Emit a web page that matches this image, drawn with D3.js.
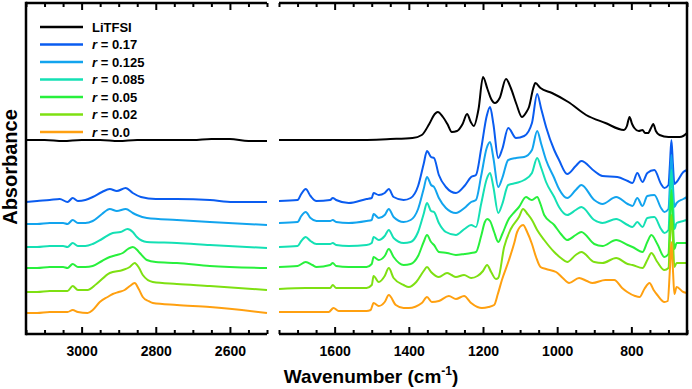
<!DOCTYPE html>
<html>
<head>
<meta charset="utf-8">
<script src="https://cdn.jsdelivr.net/npm/d3@7"></script>
<style>
  body { margin: 0; background: #fff; }
  text { font-family: "Liberation Sans", Arial, sans-serif; font-weight: bold; }
</style>
</head>
<body>
<script>
var w = 692, h = 389;

// spectra: [wavenumber (cm-1), absorbance + stacking offset]
var litfsi = [[3150,1.94],[3100,1.94],[3050,1.93],[3000,1.94],[2950,1.94],[2900,1.93],[2850,1.94],[2800,1.94],[2750,1.94],[2700,1.94],[2650,1.95],[2600,1.95],[2550,1.93],[2500,1.93],
  [1750,1.94],[1650,1.94],[1550,1.94],[1450,1.95],[1390,1.96],[1365,1.99],[1345,2.10],[1330,2.20],[1322,2.22],[1308,2.17],[1296,2.10],[1284,2.02],[1270,2.03],[1255,2.10],[1243,2.20],[1233,2.12],[1225,2.08],[1212,2.25],[1200,2.57],[1188,2.45],[1178,2.35],[1168,2.31],[1155,2.36],[1138,2.55],[1125,2.46],[1110,2.30],[1095,2.17],[1083,2.22],[1076,2.27],[1065,2.45],[1059,2.51],[1045,2.46],[1014,2.41],[970,2.32],[922,2.19],[870,2.11],[820,2.04],[812,2.08],[805,2.17],[798,2.10],[792,2.06],[780,2.03],[770,2.04],[763,2.01],[755,2.01],[747,2.06],[741,2.10],[734,2.03],[724,1.99],[700,1.97],[670,1.97],[660,1.98],[650,2.01]];

var r017 = [[3150,1.32],[3120,1.33],[3086,1.34],[3059,1.35],[3038,1.32],[3024,1.36],[3010,1.33],[2990,1.34],[2970,1.37],[2945,1.42],[2924,1.45],[2905,1.43],[2881,1.46],[2862,1.41],[2840,1.37],[2800,1.35],[2743,1.35],[2654,1.34],[2592,1.32],[2500,1.32],
  [1750,1.33],[1700,1.34],[1690,1.40],[1678,1.45],[1665,1.38],[1649,1.33],[1612,1.34],[1605,1.36],[1596,1.34],[1562,1.31],[1514,1.35],[1500,1.36],[1495,1.41],[1481,1.39],[1465,1.41],[1454,1.45],[1441,1.37],[1414,1.34],[1395,1.36],[1375,1.48],[1360,1.70],[1351,1.83],[1340,1.77],[1332,1.76],[1319,1.59],[1300,1.47],[1273,1.41],[1250,1.48],[1232,1.57],[1219,1.59],[1205,1.85],[1190,2.18],[1181,2.27],[1172,2.10],[1159,1.76],[1148,1.85],[1132,2.06],[1111,1.96],[1089,1.98],[1068,2.11],[1054,2.40],[1043,2.25],[1030,2.07],[1008,1.84],[995,1.74],[973,1.60],[950,1.68],[935,1.73],[900,1.63],[878,1.58],[838,1.57],[810,1.53],[797,1.51],[784,1.61],[770,1.52],[757,1.61],[738,1.64],[720,1.50],[711,1.46],[700,1.49],[696,1.70],[692,1.94],[688,1.70],[684,1.50],[678,1.52],[660,1.62],[650,1.64]];

var r0125 = [[3150,1.10],[3120,1.10],[3086,1.11],[3050,1.11],[3038,1.10],[3024,1.14],[3010,1.11],[2990,1.11],[2970,1.13],[2945,1.20],[2924,1.25],[2905,1.23],[2881,1.25],[2862,1.21],[2851,1.19],[2824,1.16],[2743,1.14],[2654,1.12],[2500,1.09],
  [1750,1.11],[1700,1.12],[1690,1.18],[1678,1.22],[1665,1.16],[1649,1.13],[1612,1.13],[1605,1.14],[1596,1.12],[1562,1.11],[1514,1.13],[1500,1.14],[1495,1.20],[1481,1.16],[1465,1.19],[1454,1.25],[1441,1.17],[1414,1.12],[1395,1.14],[1375,1.25],[1360,1.45],[1351,1.57],[1340,1.49],[1332,1.47],[1319,1.36],[1300,1.26],[1273,1.21],[1250,1.26],[1232,1.32],[1219,1.34],[1205,1.58],[1190,1.86],[1181,1.92],[1172,1.76],[1159,1.47],[1148,1.56],[1132,1.74],[1111,1.76],[1089,1.77],[1068,1.84],[1054,2.03],[1043,1.90],[1030,1.74],[1008,1.56],[995,1.45],[973,1.36],[950,1.44],[935,1.49],[900,1.34],[878,1.30],[841,1.37],[810,1.30],[797,1.28],[784,1.36],[770,1.28],[757,1.38],[738,1.39],[720,1.26],[711,1.22],[700,1.25],[696,1.50],[692,1.79],[688,1.50],[684,1.27],[678,1.31],[660,1.35],[650,1.37]];

var r0085 = [[3150,0.87],[3120,0.87],[3086,0.88],[3050,0.88],[3038,0.87],[3024,0.91],[3010,0.88],[2990,0.88],[2970,0.90],[2945,0.95],[2916,1.01],[2895,1.02],[2876,1.05],[2862,1.02],[2851,0.97],[2824,0.92],[2743,0.91],[2654,0.89],[2500,0.86],
  [1750,0.87],[1700,0.88],[1690,0.93],[1678,0.97],[1665,0.93],[1649,0.90],[1612,0.90],[1605,0.91],[1596,0.89],[1562,0.88],[1514,0.89],[1500,0.91],[1495,0.97],[1481,0.94],[1465,0.98],[1454,1.04],[1441,0.96],[1414,0.91],[1395,0.92],[1375,1.02],[1360,1.20],[1351,1.31],[1340,1.23],[1332,1.22],[1319,1.11],[1300,1.02],[1273,0.99],[1250,1.05],[1232,1.09],[1219,1.07],[1205,1.30],[1190,1.55],[1181,1.61],[1172,1.47],[1159,1.21],[1148,1.30],[1132,1.49],[1111,1.51],[1089,1.54],[1068,1.61],[1054,1.76],[1043,1.66],[1030,1.52],[1008,1.37],[995,1.27],[973,1.19],[950,1.24],[935,1.27],[900,1.14],[878,1.11],[841,1.15],[810,1.09],[797,1.07],[784,1.12],[770,1.07],[757,1.16],[738,1.17],[720,1.05],[711,1.01],[700,1.04],[696,1.35],[692,1.64],[688,1.35],[684,1.05],[678,1.11],[660,1.13],[650,1.14]];

var r005 = [[3150,0.66],[3120,0.66],[3086,0.67],[3050,0.67],[3038,0.66],[3024,0.70],[3010,0.67],[2990,0.67],[2970,0.68],[2945,0.73],[2924,0.77],[2905,0.79],[2889,0.81],[2875,0.85],[2862,0.87],[2850,0.84],[2843,0.81],[2824,0.74],[2800,0.72],[2743,0.71],[2654,0.68],[2500,0.66],
  [1750,0.67],[1700,0.68],[1678,0.72],[1660,0.69],[1649,0.67],[1612,0.69],[1605,0.71],[1596,0.68],[1562,0.67],[1514,0.67],[1500,0.70],[1495,0.77],[1481,0.74],[1465,0.78],[1454,0.85],[1441,0.77],[1414,0.69],[1395,0.70],[1375,0.78],[1360,0.92],[1351,0.99],[1340,0.92],[1332,0.89],[1319,0.82],[1297,0.81],[1273,0.79],[1250,0.80],[1232,0.81],[1219,0.82],[1205,0.98],[1195,1.12],[1189,1.15],[1181,1.13],[1170,1.02],[1159,0.92],[1148,1.00],[1132,1.14],[1115,1.22],[1103,1.27],[1084,1.37],[1075,1.35],[1068,1.34],[1054,1.37],[1045,1.30],[1035,1.19],[1008,1.09],[990,1.00],[973,0.94],[950,0.99],[935,1.02],[900,0.90],[878,0.88],[841,0.94],[810,0.89],[797,0.87],[770,0.82],[757,0.92],[746,0.99],[730,0.90],[711,0.77],[700,0.80],[696,1.12],[692,1.44],[688,1.12],[684,0.85],[678,0.91],[660,0.91],[650,0.91]];

var r002 = [[3150,0.42],[3120,0.42],[3086,0.43],[3050,0.43],[3038,0.43],[3024,0.48],[3010,0.44],[2984,0.44],[2960,0.50],[2924,0.61],[2889,0.64],[2870,0.67],[2857,0.71],[2845,0.66],[2835,0.59],[2808,0.52],[2743,0.50],[2654,0.48],[2500,0.44],
  [1750,0.45],[1678,0.46],[1649,0.46],[1612,0.46],[1605,0.49],[1596,0.46],[1514,0.46],[1500,0.49],[1495,0.58],[1481,0.52],[1465,0.58],[1454,0.66],[1441,0.56],[1414,0.49],[1400,0.47],[1380,0.52],[1360,0.63],[1351,0.67],[1340,0.62],[1319,0.57],[1297,0.61],[1285,0.59],[1273,0.57],[1251,0.59],[1232,0.56],[1215,0.58],[1200,0.63],[1189,0.69],[1178,0.62],[1165,0.55],[1159,0.56],[1143,0.87],[1125,1.05],[1103,1.17],[1092,1.25],[1080,1.20],[1068,1.14],[1054,1.04],[1035,0.94],[1008,0.82],[990,0.76],[973,0.72],[950,0.79],[935,0.82],[900,0.72],[878,0.71],[841,0.76],[810,0.70],[797,0.69],[770,0.66],[757,0.74],[746,0.81],[730,0.72],[711,0.64],[700,0.66],[696,0.95],[692,1.19],[688,0.95],[684,0.67],[678,0.71],[660,0.71],[650,0.71]];

var r00 = [[3150,0.21],[3120,0.21],[3086,0.22],[3050,0.22],[3038,0.22],[3024,0.24],[3010,0.22],[2984,0.21],[2970,0.24],[2951,0.32],[2930,0.37],[2916,0.40],[2900,0.42],[2884,0.44],[2870,0.48],[2857,0.51],[2846,0.45],[2835,0.37],[2820,0.33],[2808,0.31],[2743,0.29],[2654,0.27],[2500,0.21],
  [1750,0.22],[1650,0.22],[1616,0.22],[1603,0.26],[1589,0.23],[1514,0.23],[1503,0.24],[1495,0.31],[1481,0.28],[1465,0.32],[1454,0.39],[1435,0.29],[1414,0.26],[1400,0.26],[1365,0.31],[1351,0.37],[1338,0.32],[1319,0.33],[1292,0.38],[1273,0.35],[1251,0.38],[1232,0.31],[1215,0.27],[1203,0.26],[1185,0.27],[1170,0.29],[1160,0.40],[1149,0.54],[1130,0.74],[1115,0.92],[1108,1.02],[1092,1.09],[1081,1.02],[1068,0.90],[1057,0.77],[1045,0.67],[1030,0.65],[1003,0.62],[985,0.56],[968,0.51],[941,0.56],[920,0.53],[905,0.51],[870,0.54],[846,0.54],[825,0.46],[811,0.42],[790,0.38],[778,0.37],[765,0.45],[751,0.51],[740,0.44],[730,0.39],[711,0.32],[702,0.33],[696,0.65],[692,0.92],[688,0.65],[684,0.40],[678,0.47],[660,0.42],[650,0.41]];

var seriesNames = ["LiTFSI", "0.17", "0.125", "0.085", "0.05", "0.02", "0.0"];
var seriesData = [litfsi, r017, r0125, r0085, r005, r002, r00];
var seriesColors = ["#000000", "#0a5cf0", "#12a4ee", "#14e0b4", "#28f03c", "#7ee012", "#ffa010"];

var leftDomain = [3150, 2500], rightDomain = [1750, 650];
var leftMajor = [3000, 2800, 2600], rightMajor = [1600, 1400, 1200, 1000, 800];

var yTop = 3, yBottom = 334;

var xL = d3.scaleLinear().domain(leftDomain).range([26, 267]);
var xR = d3.scaleLinear().domain(rightDomain).range([279, 687]);
var y = d3.scaleLinear().domain([0, 3.31]).range([yBottom, yTop]);

var svg = d3.select("body").append("svg")
  .attr("width", w).attr("height", h);

function minorTicks(dom) {
  return d3.range(Math.ceil(dom[1] / 50) * 50, dom[0] + 1, 50);
}

var panels = [
  {x: xL, dom: leftDomain, major: leftMajor, keep: function(d) { return d[0] >= 2500; }},
  {x: xR, dom: rightDomain, major: rightMajor, keep: function(d) { return d[0] <= 1750; }}
];

panels.forEach(function(p) {
  var line = d3.line()
    .x(function(d) { return p.x(d[0]); })
    .y(function(d) { return y(d[1]); })
    .curve(d3.curveMonotoneX);

  svg.append("g").selectAll("path")
    .data(seriesData)
    .enter().append("path")
      .attr("d", function(d) {
        return line(d.filter(p.keep).sort(function(a, b) { return a[0] - b[0]; }));
      })
      .attr("fill", "none")
      .attr("stroke", function(d, i) { return seriesColors[i]; })
      .attr("stroke-width", 2)
      .attr("stroke-linejoin", "round");

  // bottom axis, ticks pointing in
  var minor = minorTicks(p.dom).filter(function(t) { return p.major.indexOf(t) < 0; });
  svg.append("g")
    .attr("transform", "translate(0," + yBottom + ")")
    .call(d3.axisBottom(p.x).tickValues(minor).tickSize(-4).tickFormat(""))
    .call(function(g) { g.select(".domain").remove(); });
  svg.append("g")
    .attr("transform", "translate(0," + yBottom + ")")
    .call(d3.axisBottom(p.x).tickValues(p.major).tickSize(-7).tickPadding(12).tickFormat(d3.format("d")))
    .call(function(g) { g.select(".domain").remove(); })
    .selectAll("text")
      .style("font-size", "14px")
      .attr("fill", "#000");

  // top mirror axis
  svg.append("g")
    .attr("transform", "translate(0," + yTop + ")")
    .call(d3.axisTop(p.x).tickValues(minor).tickSize(-4).tickFormat(""))
    .call(function(g) { g.select(".domain").remove(); });
  svg.append("g")
    .attr("transform", "translate(0," + yTop + ")")
    .call(d3.axisTop(p.x).tickValues(p.major).tickSize(-7).tickFormat(""))
    .call(function(g) { g.select(".domain").remove(); });

  svg.selectAll(".tick line").attr("stroke", "#000").attr("stroke-width", 2);

  var r = p.x.range();
  svg.append("line").attr("x1", r[0]).attr("x2", r[1]).attr("y1", yBottom).attr("y2", yBottom)
    .attr("stroke", "#000").attr("stroke-width", 2.5);
  svg.append("line").attr("x1", r[0]).attr("x2", r[1]).attr("y1", yTop).attr("y2", yTop)
    .attr("stroke", "#000").attr("stroke-width", 2.5);
});

// outer vertical edges
svg.append("line").attr("x1", xL.range()[0]).attr("x2", xL.range()[0]).attr("y1", yTop - 1.25).attr("y2", yBottom + 1.25)
  .attr("stroke", "#000").attr("stroke-width", 2.5);
svg.append("line").attr("x1", xR.range()[1]).attr("x2", xR.range()[1]).attr("y1", yTop - 1.25).attr("y2", yBottom + 1.25)
  .attr("stroke", "#000").attr("stroke-width", 2.5);

// axis titles
svg.append("text")
  .attr("transform", "translate(17,167) rotate(-90)")
  .attr("text-anchor", "middle")
  .style("font-size", "20px")
  .text("Absorbance");

var xt = svg.append("text")
  .attr("x", 371).attr("y", 383)
  .attr("text-anchor", "middle")
  .style("font-size", "19px");
xt.append("tspan").text("Wavenumber (cm");
xt.append("tspan").attr("dy", -8).style("font-size", "12px").text("-1");
xt.append("tspan").attr("dy", 8).text(")");

// legend
var legend = svg.append("g").selectAll("g")
  .data(seriesNames)
  .enter().append("g")
    .attr("transform", function(d, i) { return "translate(0," + (27 + i * 17.5) + ")"; });

legend.append("line")
  .attr("x1", 40).attr("x2", 83)
  .attr("stroke", function(d, i) { return seriesColors[i]; })
  .attr("stroke-width", 2.5);

legend.append("text")
  .attr("x", 92).attr("y", 4.5)
  .style("font-size", "13px")
  .each(function(d, i) {
    var t = d3.select(this);
    if (i === 0) { t.text(d); return; }
    t.append("tspan").style("font-style", "italic").text("r");
    t.append("tspan").text(" = " + d);
  });
</script>
</body>
</html>
